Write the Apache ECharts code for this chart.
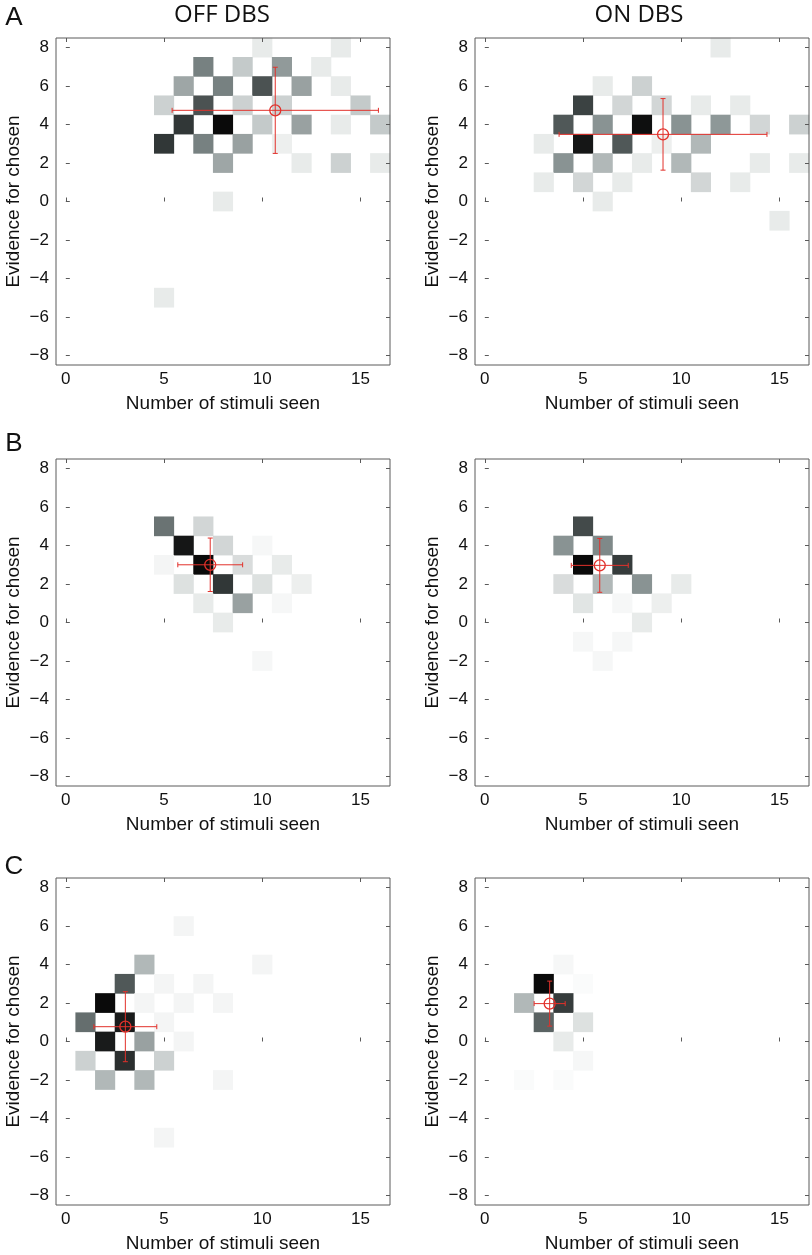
<!DOCTYPE html>
<html>
<head>
<meta charset="utf-8">
<script src="https://cdn.jsdelivr.net/npm/echarts@6/dist/echarts.min.js"></script>
<style>
html,body{margin:0;padding:0;background:#fff;}
#chart{width:812px;height:1255px;}
</style>
</head>
<body>
<div id="chart"></div>
<script>
// ---- Data ----
const xCategories = ['0','1','2','3','4','5','6','7','8','9','10','11','12','13','14','15','16'];
const yCategories = ['-8','-7','-6','-5','-4','-3','-2','-1','0','1','2','3','4','5','6','7','8'];
const columnTitles = ['OFF DBS', 'ON DBS'];
const rowLetters = ['A', 'B', 'C'];
const xAxisName = 'Number of stimuli seen';
const yAxisName = 'Evidence for chosen';

// cells: [stimuli seen, evidence, relative density 0..1]
const cellsOffA = [
  [10,8,0.1],[14,8,0.1],
  [7,7,0.55],[9,7,0.25],[11,7,0.45],[13,7,0.1],
  [6,6,0.4],[8,6,0.55],[10,6,0.72],[12,6,0.42],[14,6,0.1],
  [5,5,0.22],[7,5,0.72],[9,5,0.22],[11,5,0.22],[15,5,0.25],
  [6,4,0.82],[8,4,1.0],[10,4,0.25],[12,4,0.42],[14,4,0.1],[16,4,0.25],
  [5,3,0.82],[7,3,0.55],[9,3,0.42],[11,3,0.08],
  [8,2,0.4],[12,2,0.1],[14,2,0.22],[16,2,0.1],
  [8,0,0.1],[5,-5,0.1]
];
const cellsOnA = [
  [12,8,0.1],
  [6,6,0.1],[8,6,0.22],
  [5,5,0.78],[7,5,0.2],[9,5,0.2],[11,5,0.1],[13,5,0.1],
  [4,4,0.7],[6,4,0.48],[8,4,0.98],[10,4,0.48],[12,4,0.46],[14,4,0.2],[16,4,0.22],
  [3,3,0.1],[5,3,0.95],[7,3,0.7],[9,3,0.08],[11,3,0.32],
  [4,2,0.48],[6,2,0.32],[8,2,0.1],[10,2,0.32],[14,2,0.1],[16,2,0.1],
  [3,1,0.1],[5,1,0.2],[7,1,0.1],[11,1,0.2],[13,1,0.1],
  [6,0,0.1],[15,-1,0.1]
];
const cellsOffB = [
  [5,5,0.6],[7,5,0.2],
  [6,4,0.95],[8,4,0.2],[10,4,0.04],
  [5,3,0.05],[7,3,1.0],[9,3,0.17],[11,3,0.1],
  [6,2,0.15],[8,2,0.82],[10,2,0.15],[12,2,0.08],
  [7,1,0.1],[9,1,0.42],[11,1,0.04],
  [8,0,0.1],[10,-2,0.04]
];
const cellsOnB = [
  [5,5,0.75],
  [4,4,0.48],[6,4,0.52],
  [5,3,1.0],[7,3,0.8],
  [4,2,0.17],[6,2,0.32],[8,2,0.48],[10,2,0.1],
  [5,1,0.13],[7,1,0.04],[9,1,0.08],
  [8,0,0.1],
  [5,-1,0.04],[7,-1,0.04],
  [6,-2,0.04]
];
const cellsOffC = [
  [6,6,0.05],
  [4,4,0.32],[10,4,0.05],
  [3,3,0.7],[5,3,0.05],[7,3,0.05],
  [2,2,1.0],[4,2,0.05],[6,2,0.05],[8,2,0.05],
  [1,1,0.62],[3,1,0.93],[5,1,0.05],
  [2,0,0.93],[4,0,0.42],[6,0,0.05],
  [1,-1,0.22],[3,-1,0.85],[5,-1,0.22],
  [2,-2,0.32],[4,-2,0.32],[8,-2,0.05],
  [5,-5,0.05]
];
const cellsOnC = [
  [4,4,0.04],
  [3,3,1.0],[5,3,0.02],
  [2,2,0.32],[4,2,0.8],
  [3,1,0.66],[5,1,0.15],
  [4,0,0.1],
  [5,-1,0.04],
  [2,-2,0.02],[4,-2,0.02]
];

// mean and spread: [mean x, mean y, x error, y error]
const statOffA = [10.66, 4.74, 5.25, 2.24];
const statOnA  = [9.07, 3.49, 5.29, 1.86];
const statOffB = [7.35, 3.00, 1.65, 1.39];
const statOnB  = [5.85, 2.97, 1.45, 1.40];
const statOffC = [3.03, 0.77, 1.60, 1.82];
const statOnC  = [3.30, 1.97, 0.79, 1.17];

const panelCells = [cellsOffA, cellsOnA, cellsOffB, cellsOnB, cellsOffC, cellsOnC];
const panelStats = [statOffA, statOnA, statOffB, statOnB, statOffC, statOnC];

// ---- Layout / style ----
const gridPos = [
  {left:56, top:38}, {left:475, top:38},
  {left:56, top:459}, {left:475, top:459},
  {left:56, top:878}, {left:475, top:878}
];
const GW = 334, GH = 327;
const axisGray = '#5a5a5a';
const red = '#e2312b';
const palette = ['#ffffff','#e8ebea','#d2d6d6','#b6bdbd','#9ea6a6','#848e8e','#6a7373','#505858','#363c3c','#1f2222','#0a0a0a'];
const tickFont = {fontFamily:'Liberation Sans, Arial, sans-serif', fontSize:17, color:'#111'};
const nameFont = {fontFamily:'Liberation Sans, Arial, sans-serif', fontSize:19, color:'#111'};

const grids = [], xAxes = [], yAxes = [], heatSeries = [], barSeries = [];
const minusFmt = v => String(v).replace('-', '\u2212');

gridPos.forEach((p, g) => {
  grids.push({left:p.left, top:p.top, width:GW, height:GH, show:true, borderColor:axisGray, borderWidth:1, backgroundColor:'rgba(0,0,0,0)', z:3});
  // bottom category axis
  xAxes.push({type:'category', gridIndex:g, data:xCategories, position:'bottom', boundaryGap:true, z:3,
    axisLine:{show:false},
    axisTick:{show:true, inside:true, length:4, alignWithLabel:true, interval:(i)=>i%5===0, lineStyle:{color:axisGray}},
    axisLabel:Object.assign({interval:(i)=>i%5===0, margin:6}, tickFont),
    splitLine:{show:false},
    name:xAxisName, nameLocation:'middle', nameGap:29, nameTextStyle:nameFont});
  // top mirror
  xAxes.push({type:'category', gridIndex:g, data:xCategories, position:'top', boundaryGap:true, z:3,
    axisLine:{show:false},
    axisTick:{show:true, inside:true, length:4, alignWithLabel:true, interval:(i)=>i%5===0, lineStyle:{color:axisGray}},
    axisLabel:{show:false}, splitLine:{show:false}});
  // hidden value axis for means
  xAxes.push({type:'value', gridIndex:g, min:-0.5, max:16.5, show:false});

  yAxes.push({type:'category', gridIndex:g, data:yCategories, position:'left', boundaryGap:true, z:3,
    axisLine:{show:false},
    axisTick:{show:true, inside:true, length:4, alignWithLabel:true, interval:(i)=>i%2===0, lineStyle:{color:axisGray}},
    axisLabel:Object.assign({interval:(i)=>i%2===0, margin:7, formatter:minusFmt}, tickFont),
    splitLine:{show:false},
    name:yAxisName, nameLocation:'middle', nameGap:33, nameTextStyle:nameFont});
  yAxes.push({type:'category', gridIndex:g, data:yCategories, position:'right', boundaryGap:true, z:3,
    axisLine:{show:false},
    axisTick:{show:true, inside:true, length:4, alignWithLabel:true, interval:(i)=>i%2===0, lineStyle:{color:axisGray}},
    axisLabel:{show:false}, splitLine:{show:false}});
  yAxes.push({type:'value', gridIndex:g, min:-8.5, max:8.5, show:false});

  heatSeries.push({
    type:'heatmap', xAxisIndex:g*3, yAxisIndex:g*3,
    data: panelCells[g].map(c => [String(c[0]), String(c[1]), c[2]]),
    itemStyle:{borderWidth:0}, emphasis:{disabled:true}, progressive:0, z:2
  });

  barSeries.push({
    type:'custom', xAxisIndex:g*3+2, yAxisIndex:g*3+2, z:10, silent:true,
    data:[panelStats[g]],
    renderItem:(params, api) => {
      const mx = api.value(0), my = api.value(1), ex = api.value(2), ey = api.value(3);
      const c = api.coord([mx, my]);
      const l = api.coord([mx-ex, my]), r = api.coord([mx+ex, my]);
      const t = api.coord([mx, my+ey]), b = api.coord([mx, my-ey]);
      const cap = 2.5;
      const st = {stroke:red, lineWidth:1, fill:null};
      return {type:'group', children:[
        {type:'line', shape:{x1:l[0], y1:l[1], x2:r[0], y2:r[1]}, style:st},
        {type:'line', shape:{x1:t[0], y1:t[1], x2:b[0], y2:b[1]}, style:st},
        {type:'line', shape:{x1:l[0], y1:l[1]-cap, x2:l[0], y2:l[1]+cap}, style:st},
        {type:'line', shape:{x1:r[0], y1:r[1]-cap, x2:r[0], y2:r[1]+cap}, style:st},
        {type:'line', shape:{x1:t[0]-cap, y1:t[1], x2:t[0]+cap, y2:t[1]}, style:st},
        {type:'line', shape:{x1:b[0]-cap, y1:b[1], x2:b[0]+cap, y2:b[1]}, style:st},
        {type:'circle', shape:{cx:c[0], cy:c[1], r:5.5}, style:{stroke:red, lineWidth:1.3, fill:null}}
      ]};
    }
  });
});

const graphics = [
  {type:'text', x:222, y:15, style:{text:columnTitles[0], font:'24px "Open Sans", sans-serif', fill:'#111', align:'center', verticalAlign:'middle'}},
  {type:'text', x:639, y:15, style:{text:columnTitles[1], font:'24px "Open Sans", sans-serif', fill:'#111', align:'center', verticalAlign:'middle'}},
  {type:'text', x:14, y:18, style:{text:rowLetters[0], font:'26px "Liberation Sans", Arial, sans-serif', fill:'#111', align:'center', verticalAlign:'middle'}},
  {type:'text', x:14, y:444, style:{text:rowLetters[1], font:'26px "Liberation Sans", Arial, sans-serif', fill:'#111', align:'center', verticalAlign:'middle'}},
  {type:'text', x:14, y:867, style:{text:rowLetters[2], font:'26px "Liberation Sans", Arial, sans-serif', fill:'#111', align:'center', verticalAlign:'middle'}}
];

const chart = echarts.init(document.getElementById('chart'), null, {renderer:'canvas'});
chart.setOption({
  animation:false,
  backgroundColor:'#ffffff',
  grid:grids, xAxis:xAxes, yAxis:yAxes,
  visualMap:{type:'continuous', show:false, min:0, max:1, dimension:2, seriesIndex:[0,1,2,3,4,5], inRange:{color:palette}},
  series: heatSeries.concat(barSeries),
  graphic: graphics
});
</script>
</body>
</html>
